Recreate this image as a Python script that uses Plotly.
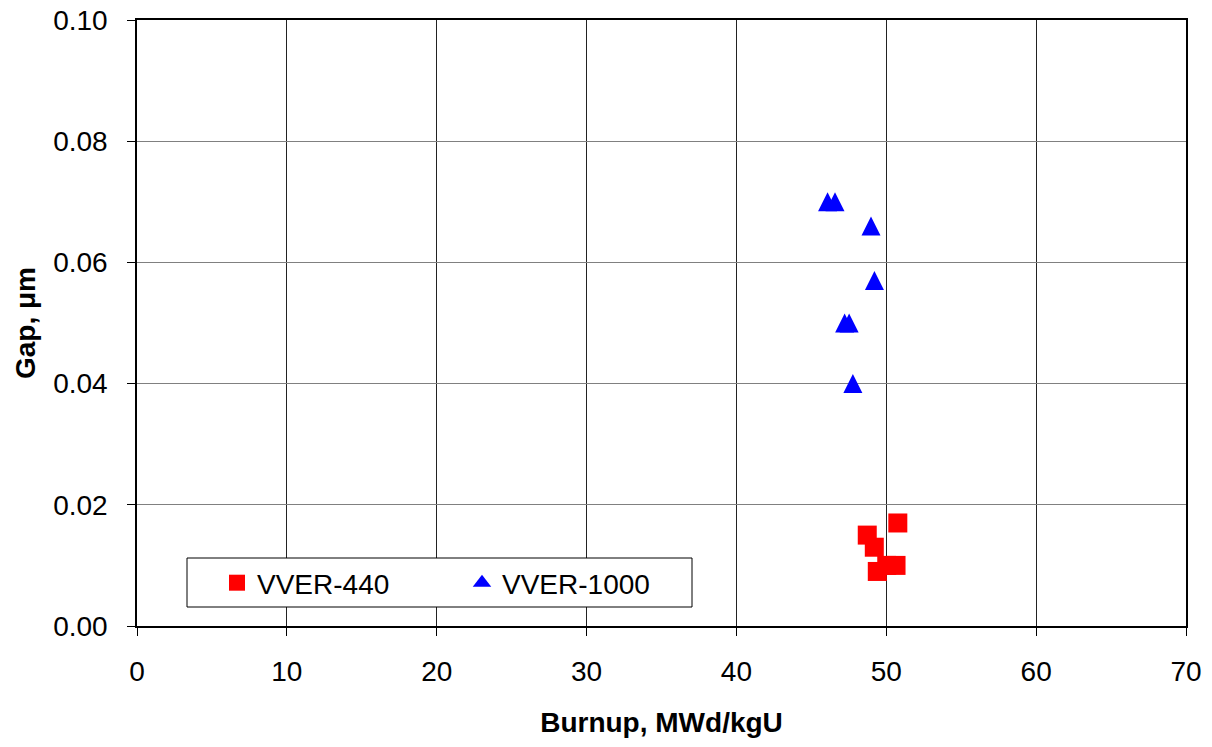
import plotly.graph_objects as go

# Gap measurements versus burnup for two reactor types
vver440_burnup = [50.77, 48.73, 49.20, 49.40, 50.03, 50.65]
vver440_gap = [0.017, 0.015, 0.013, 0.009, 0.010, 0.010]

vver1000_burnup = [46.08, 46.58, 48.98, 49.21, 47.22, 47.52, 47.77]
vver1000_gap = [0.070, 0.070, 0.066, 0.057, 0.050, 0.050, 0.040]

x_ticks = [0, 10, 20, 30, 40, 50, 60, 70]
y_ticks = [0.00, 0.02, 0.04, 0.06, 0.08, 0.10]

FONT = "Liberation Sans, Arial, sans-serif"
SIZE = 19

W, H = 1212, 747
ML, MR, MT, MB = 137, 26, 20, 121
PW, PH = W - ML - MR, H - MT - MB


def px_to_paper(x_px, y_px):
    """Convert page pixels to paper coordinates of the plot area."""
    return (x_px - ML) / PW, (H - MB - y_px) / PH


fig = go.Figure()

fig.add_trace(go.Scatter(
    x=vver440_burnup, y=vver440_gap, mode="markers", name="VVER-440",
    marker=dict(symbol="square", size=SIZE, color="#ff0000",
                line=dict(width=0)),
))

# isosceles triangle centred on the point: an arrow glyph flipped and
# pushed back by half its height
fig.add_trace(go.Scatter(
    x=vver1000_burnup, y=vver1000_gap, mode="markers", name="VVER-1000",
    showlegend=False,
    marker=dict(symbol="arrow-down", size=SIZE, color="#0000ff",
                angle=180, standoff=SIZE / 2, line=dict(width=0)),
))

# legend key for the triangle series
fig.add_trace(go.Scatter(
    x=[None], y=[None], mode="markers", name="VVER-1000",
    marker=dict(symbol="triangle-up", size=SIZE, color="#0000ff",
                line=dict(width=0)),
))

# legend frame
bx0, by0 = px_to_paper(187, 607)
bx1, by1 = px_to_paper(692, 558)
fig.add_shape(type="rect", xref="paper", yref="paper",
              x0=bx0, y0=by0, x1=bx1, y1=by1,
              line=dict(color="black", width=1), fillcolor="white",
              layer="above")

lx, ly = px_to_paper(217, 558)

fig.update_layout(
    width=W, height=H,
    margin=dict(l=ML, r=MR, t=MT, b=MB, autoexpand=False),
    paper_bgcolor="white", plot_bgcolor="white",
    font=dict(family=FONT, size=28, color="black"),
    showlegend=True,
    legend=dict(
        orientation="h", x=lx, y=ly, xanchor="left", yanchor="top",
        borderwidth=0, bgcolor="rgba(0,0,0,0)",
        font=dict(size=28), entrywidth=200, entrywidthmode="pixels",
    ),
    xaxis=dict(
        range=[0, 70], tickvals=x_ticks, ticktext=[str(v) for v in x_ticks],
        showgrid=True, gridcolor="#222222", gridwidth=1,
        showline=True, linecolor="black", linewidth=1.5, mirror=True,
        ticks="outside", ticklen=8, tickcolor="black", tickwidth=1,
        ticklabelstandoff=12, zeroline=False, automargin=False,
        title=dict(text="<b>Burnup, MWd/kgU</b>", standoff=26,
                   font=dict(size=28)),
    ),
    yaxis=dict(
        range=[0, 0.10], tickvals=y_ticks,
        ticktext=[f"{v:.2f}" for v in y_ticks],
        showgrid=True, gridcolor="#808080", gridwidth=1,
        showline=True, linecolor="black", linewidth=1.5, mirror=True,
        ticks="outside", ticklen=8, tickcolor="black", tickwidth=1,
        ticklabelstandoff=14, zeroline=False, automargin=False,
        title=dict(text="<b>Gap, μm</b>", standoff=9, font=dict(size=28)),
    ),
)

fig.write_html("out.html")
